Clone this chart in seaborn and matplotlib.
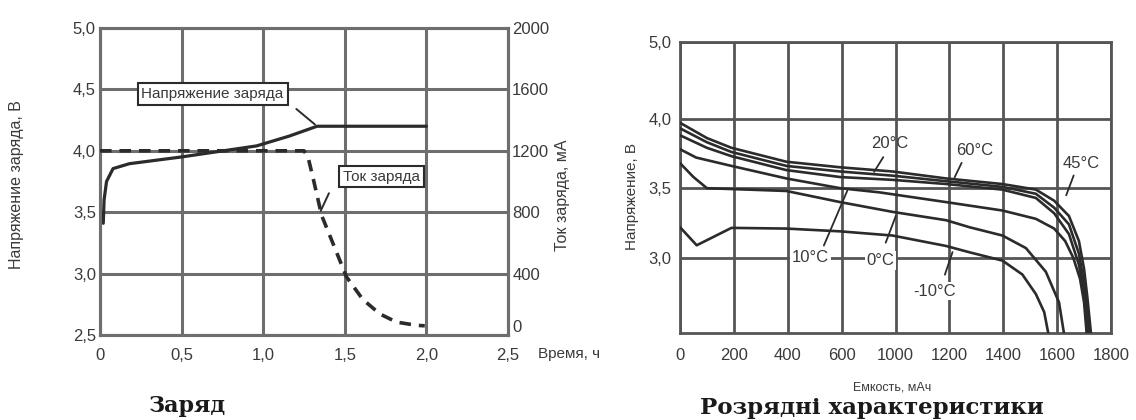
import matplotlib
matplotlib.use("Agg")
import matplotlib.pyplot as plt
from matplotlib import font_manager
import pandas as pd
import seaborn as sns

# ---------------- Data: left chart "Заряд" ----------------
charge_time_v = [0.02, 0.025, 0.04, 0.08, 0.18, 0.5, 0.96, 1.16, 1.33, 2.0]
charge_voltage = [3.41, 3.60, 3.75, 3.855, 3.895, 3.95, 4.04, 4.12, 4.20, 4.20]
charge_time_i = [0.0, 1.25, 1.275, 1.306, 1.358, 1.43, 1.51, 1.61, 1.715, 1.817, 1.94, 1.99]
charge_current = [1200, 1200, 1158, 1021, 779, 590, 379, 232, 137, 84, 63, 60]

left_xticks = [0, 0.5, 1.0, 1.5, 2.0, 2.5]
left_xticklabels = ["0", "0,5", "1,0", "1,5", "2,0", "2,5"]
left_yticks = [2.5, 3.0, 3.5, 4.0, 4.5, 5.0]
left_yticklabels = ["2,5", "3,0", "3,5", "4,0", "4,5", "5,0"]
current_ticks = [0, 400, 800, 1200, 1600, 2000]
current_ticklabels = ["0", "400", "800", "1200", "1600", "2000"]

# ---------------- Data: right chart "Розрядні характеристики" ----------------
cap_60 = [0, 100, 191, 395, 595, 789, 988, 1196, 1321, 1389, 1444, 1481, 1500, 1512, 1526]
volt_60 = [3.97, 3.86, 3.79, 3.69, 3.65, 3.62, 3.57, 3.53, 3.49, 3.41, 3.30, 3.12, 2.92, 2.72, 2.45]
cap_45 = [0, 100, 191, 395, 595, 789, 988, 1196, 1321, 1389, 1444, 1481, 1497, 1508, 1519]
volt_45 = [3.93, 3.83, 3.76, 3.66, 3.62, 3.59, 3.55, 3.51, 3.46, 3.36, 3.24, 3.03, 2.85, 2.68, 2.45]
cap_20 = [0, 100, 191, 395, 595, 789, 988, 1196, 1321, 1389, 1444, 1481, 1494, 1504, 1512]
volt_20 = [3.88, 3.79, 3.73, 3.63, 3.58, 3.56, 3.53, 3.49, 3.43, 3.32, 3.17, 2.95, 2.80, 2.65, 2.45]
cap_10 = [0, 60, 191, 395, 595, 741, 988, 1196, 1321, 1389, 1430, 1460, 1485, 1500, 1510]
volt_10 = [3.78, 3.72, 3.66, 3.57, 3.50, 3.47, 3.40, 3.34, 3.28, 3.21, 3.12, 3.00, 2.85, 2.68, 2.45]
cap_0 = [0, 50, 100, 250, 395, 595, 789, 988, 1074, 1197, 1284, 1358, 1407, 1426]
volt_0 = [3.68, 3.58, 3.50, 3.49, 3.48, 3.40, 3.33, 3.27, 3.22, 3.16, 3.07, 2.90, 2.68, 2.45]
cap_m10 = [0, 62, 191, 395, 595, 789, 988, 1074, 1197, 1271, 1321, 1352, 1368]
volt_m10 = [3.22, 3.09, 3.215, 3.21, 3.19, 3.16, 3.085, 3.04, 2.98, 2.88, 2.74, 2.61, 2.45]

right_xticks = [0, 200, 400, 600, 800, 1000, 1200, 1400, 1600]
right_xticklabels = ["0", "200", "400", "600", "1000", "1200", "1400", "1600", "1800"]
right_yticks = [3.0, 3.5, 4.0, 4.55]
right_yticklabels = ["3,0", "3,5", "4,0", "5,0"]

# ---------------- Style ----------------
sns.set_theme(style="white")
names = {f.name for f in font_manager.fontManager.ttflist}
NARROW = "Liberation Sans Narrow" if "Liberation Sans Narrow" in names else "Liberation Sans"
plt.rcParams["font.family"] = [NARROW, "DejaVu Sans"]

LINE = "#2b2b2b"
GRID = "#6e6e6e"
TXT = "#3a3a3a"

fig = plt.figure(figsize=(11.36, 4.2), dpi=100)
fig.patch.set_facecolor("white")

# ====== Left chart ======
axL = fig.add_axes([100 / 1136, 1 - 335 / 420, 408 / 1136, 307 / 420])
dfv = pd.DataFrame({"t": charge_time_v, "v": charge_voltage})
sns.lineplot(data=dfv, x="t", y="v", ax=axL, color=LINE, lw=2.3,
             sort=False, estimator=None, zorder=5)
axL.set_xlim(0, 2.5)
axL.set_ylim(2.5, 5.0)
axL.set_xticks(left_xticks)
axL.set_xticklabels(left_xticklabels)
axL.set_yticks(left_yticks)
axL.set_yticklabels(left_yticklabels)
axL.grid(True, color=GRID, lw=2.2)
axL.set_xlabel("")
axL.set_ylabel("")

axI = axL.twinx()
dfi = pd.DataFrame({"t": charge_time_i, "i": charge_current})
sns.lineplot(data=dfi, x="t", y="i", ax=axI, color=LINE, lw=2.6,
             sort=False, estimator=None, zorder=5)
axI.lines[-1].set_dashes([3.2, 2.2])
axI.set_ylim(0, 2000)
axI.set_yticks(current_ticks)
axI.set_yticklabels(current_ticklabels)
axI.set_ylabel("")
axI.grid(False)

for ax in (axL, axI):
    for s in ax.spines.values():
        s.set_color(GRID)
        s.set_linewidth(2.2)
    ax.tick_params(length=0, labelsize=12, colors=TXT, pad=3)
axL.tick_params(axis="x", pad=9)
# right-axis "0" sits slightly above the bottom edge in the reference
axI.get_yticklabels()[0].set_va("bottom")

box_kw = dict(boxstyle="square,pad=0.25", fc="white", ec=LINE, lw=1.5)
axL.text(0.69, 4.46, "Напряжение заряда", ha="center", va="center",
         fontsize=11, color=TXT, bbox=box_kw, zorder=6)
axL.annotate("", xy=(1.33, 4.20), xytext=(1.19, 4.355),
             arrowprops=dict(arrowstyle="-", color=LINE, lw=1.4), zorder=6)
axL.text(1.725, 3.79, "Ток заряда", ha="center", va="center",
         fontsize=11, color=TXT, bbox=box_kw, zorder=6)
axL.annotate("", xy=(1.345, 3.49), xytext=(1.41, 3.675),
             arrowprops=dict(arrowstyle="-", color=LINE, lw=1.4), zorder=6)

fig.text(17 / 1136, 1 - 185 / 420, "Напряжение заряда, В", rotation=90,
         ha="center", va="center", fontsize=11.5, color=TXT)
fig.text(562 / 1136, 1 - 195 / 420, "Ток заряда, мА", rotation=90,
         ha="center", va="center", fontsize=11.5, color=TXT)
fig.text(538 / 1136, 1 - 354 / 420, "Время, ч", ha="left", va="center",
         fontsize=11, color=TXT)

# ====== Right chart ======
axR = fig.add_axes([680 / 1136, 1 - 333 / 420, 431 / 1136, 291 / 420])
curves = [(cap_60, volt_60), (cap_45, volt_45), (cap_20, volt_20),
          (cap_10, volt_10), (cap_0, volt_0), (cap_m10, volt_m10)]
for cx, cy in curves:
    d = pd.DataFrame({"c": cx, "v": cy})
    sns.lineplot(data=d, x="c", y="v", ax=axR, color=LINE, lw=1.9,
                 sort=False, estimator=None, zorder=5)
axR.set_xlim(0, 1600)
axR.set_ylim(2.46, 4.55)
axR.set_xticks(right_xticks)
axR.set_xticklabels(right_xticklabels)
axR.set_yticks(right_yticks)
axR.set_yticklabels(right_yticklabels)
axR.grid(True, color="#555555", lw=2.0)
axR.set_xlabel("")
axR.set_ylabel("")
for s in axR.spines.values():
    s.set_color("#555555")
    s.set_linewidth(2.0)
axR.tick_params(length=0, labelsize=12, colors=TXT, pad=6)
axR.tick_params(axis="x", pad=11)

lead = dict(arrowstyle="-", color=LINE, lw=1.3)
axR.text(780, 3.82, "20°C", ha="center", va="center", fontsize=12, color=TXT, zorder=6)
axR.annotate("", xy=(715, 3.60), xytext=(760, 3.74), arrowprops=lead)
axR.text(1095, 3.77, "60°C", ha="center", va="center", fontsize=12, color=TXT, zorder=6)
axR.annotate("", xy=(1015, 3.56), xytext=(1050, 3.70), arrowprops=lead)
axR.text(1490, 3.68, "45°C", ha="center", va="center", fontsize=12, color=TXT, zorder=6)
axR.annotate("", xy=(1430, 3.43), xytext=(1465, 3.61), arrowprops=lead)
wbox = dict(boxstyle="square,pad=0.1", fc="white", ec="none")
axR.text(485, 3.0, "10°C", ha="center", va="center", fontsize=12, color=TXT,
         bbox=wbox, zorder=6)
axR.annotate("", xy=(625, 3.50), xytext=(530, 3.07), arrowprops=lead)
axR.text(745, 2.98, "0°C", ha="center", va="center", fontsize=12, color=TXT,
         bbox=wbox, zorder=6)
axR.annotate("", xy=(805, 3.32), xytext=(760, 3.09), arrowprops=lead)
axR.text(945, 2.76, "-10°C", ha="center", va="center", fontsize=12, color=TXT,
         bbox=wbox, zorder=6)
axR.annotate("", xy=(1015, 3.06), xytext=(980, 2.86), arrowprops=lead)

fig.text(632 / 1136, 1 - 197 / 420, "Напряжение, В", rotation=90,
         ha="center", va="center", fontsize=11, color=TXT)
fig.text(892 / 1136, 1 - 388 / 420, "Емкость, мАч", ha="center", va="center",
         fontsize=9, color=TXT)

# ====== Captions ======
fig.text(187 / 1136, 1 - 406 / 420, "Заряд", ha="center", va="center",
         fontsize=16, fontweight="bold", family=["DejaVu Serif"], color="#1a1a1a")
fig.text(872 / 1136, 1 - 408 / 420, "Розрядні характеристики", ha="center",
         va="center", fontsize=16.5, fontweight="bold", family=["DejaVu Serif"],
         color="#1a1a1a")

fig.savefig("out.png", dpi=100, facecolor="white")
